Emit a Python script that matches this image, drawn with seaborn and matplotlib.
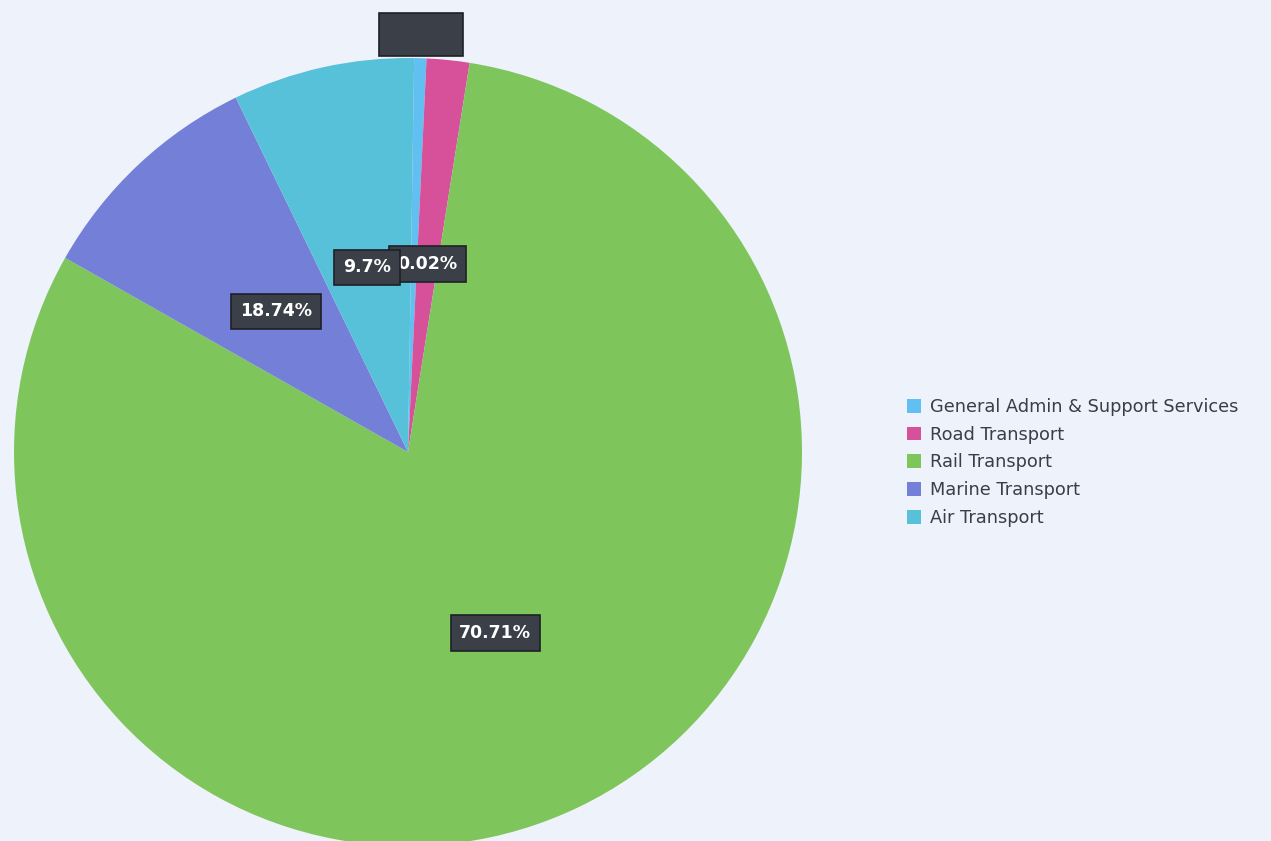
import matplotlib
matplotlib.use("Agg")
import matplotlib.pyplot as plt
import seaborn as sns
import numpy as np

# ---- data ----
categories = ["General Admin & Support Services", "Road Transport", "Rail Transport",
              "Marine Transport", "Air Transport"]
shares = [0.5, 1.75, 80.7, 9.6, 7.45]          # wedge sizes as drawn
pct_labels = ["0.83%", "0.02%", "70.71%", "18.74%", "9.7%"]  # printed labels
colors = ["#62bff2", "#d6509a", "#7ec55c", "#7480d8", "#57c1d9"]

sns.set_theme(style="white")
plt.rcParams["font.family"] = ["DejaVu Sans"]

W, H = 1271, 841
fig = plt.figure(figsize=(W / 100, H / 100), dpi=100)
bg = "#eef3fb"
fig.patch.set_facecolor(bg)

cx, cy, R = 408, 452, 394
ax = fig.add_axes([(cx - R) / W, (H - cy - R) / H, 2 * R / W, 2 * R / H])
ax.set_facecolor(bg)

wedges, _ = ax.pie(shares, colors=colors, startangle=89.1, counterclock=False,
                   radius=1.0, wedgeprops=dict(linewidth=0))
ax.set_xlim(-1, 1)
ax.set_ylim(-1, 1)
ax.set_aspect("equal")
ax.axis("off")

label_r = [1.06, 0.48, 0.51, 0.49, 0.48]
box_col = "#3b3f48"
for w, txt, r in zip(wedges, pct_labels, label_r):
    mid = np.deg2rad((w.theta1 + w.theta2) / 2)
    x, y = r * np.cos(mid), r * np.sin(mid)
    hidden = r > 1
    ax.text(x, y, txt, ha="center", va="center", fontsize=12.5, fontweight="bold",
            color=box_col if hidden else "white", clip_on=False,
            bbox=dict(boxstyle="square,pad=0.5" if not hidden else "square,pad=0.7",
                      facecolor=box_col, edgecolor="#1e2026", linewidth=1.2))

leg = fig.legend(wedges, categories, loc="upper left",
                 bbox_to_anchor=(898 / W, 1 - 389 / H), frameon=False,
                 fontsize=12.8, handlelength=0.8, handleheight=0.8,
                 handletextpad=0.5, labelspacing=0.55, borderpad=0)
for t in leg.get_texts():
    t.set_color("#3a3d4a")

fig.savefig("out.png", dpi=100, facecolor=bg)
